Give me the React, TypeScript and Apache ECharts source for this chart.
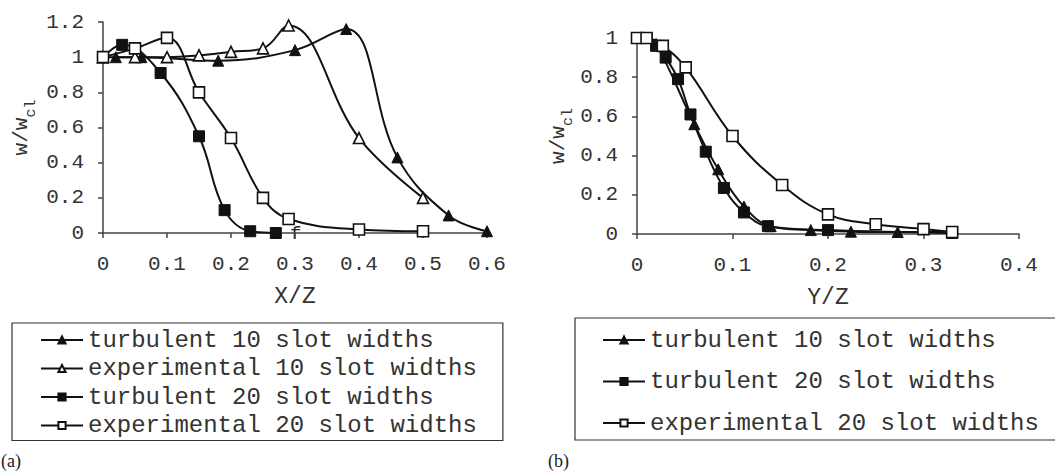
import React, { useEffect, useRef } from "react";
import * as echarts from "echarts";

// ---- data (a): w/wcl vs X/Z ----
const turb10A: number[][] = [[0.02, 1.0], [0.06, 1.0], [0.18, 0.98], [0.3, 1.04], [0.38, 1.16], [0.46, 0.43], [0.54, 0.1], [0.6, 0.01]];
const exp10A: number[][] = [[0, 1.0], [0.05, 1.0], [0.1, 1.0], [0.15, 1.01], [0.2, 1.03], [0.25, 1.05], [0.29, 1.18], [0.4, 0.54], [0.5, 0.2]];
const turb20A: number[][] = [[0, 1.0], [0.03, 1.07], [0.09, 0.91], [0.15, 0.55], [0.19, 0.13], [0.23, 0.01], [0.27, 0.0]];
const exp20A: number[][] = [[0, 1.0], [0.05, 1.05], [0.1, 1.11], [0.15, 0.8], [0.2, 0.54], [0.25, 0.2], [0.29, 0.08], [0.4, 0.02], [0.5, 0.01]];

// ---- data (b): w/wcl vs Y/Z ----
const turb10B: number[][] = [[0, 1.0], [0.01, 1.0], [0.02, 0.97], [0.06, 0.56], [0.085, 0.33], [0.112, 0.14], [0.14, 0.04], [0.182, 0.02], [0.224, 0.012], [0.273, 0.01], [0.33, 0.01]];
const turb20B: number[][] = [[0, 1.0], [0.01, 1.0], [0.02, 0.96], [0.03, 0.9], [0.043, 0.79], [0.056, 0.61], [0.072, 0.42], [0.091, 0.235], [0.112, 0.11], [0.137, 0.04], [0.2, 0.02], [0.33, 0.005]];
const exp20B: number[][] = [[0, 1.0], [0.01, 1.0], [0.027, 0.96], [0.051, 0.85], [0.1, 0.5], [0.152, 0.25], [0.2, 0.1], [0.25, 0.05], [0.3, 0.025], [0.33, 0.01]];

const nameT10 = "turbulent 10 slot widths";
const nameE10 = "experimental 10 slot widths";
const nameT20 = "turbulent 20 slot widths";
const nameE20 = "experimental 20 slot widths";

const MONO = "Liberation Mono";
const INK = "#111";
const AXIS = "#444";
const TXT = "#333";

function axisX(gridIndex: number, max: number, name: string) {
  return {
    type: "value",
    gridIndex,
    min: 0,
    max,
    interval: 0.1,
    name,
    nameLocation: "middle",
    nameGap: 52,
    nameTextStyle: { fontFamily: MONO, fontSize: 23, color: TXT },
    splitLine: { show: false },
    axisLine: { show: true, lineStyle: { color: AXIS, width: 1.5 } },
    axisTick: { show: true, length: 5, lineStyle: { color: AXIS, width: 1.5 } },
    axisLabel: { fontFamily: MONO, fontSize: 21, color: TXT, margin: 21 },
  };
}

function axisY(gridIndex: number, max: number, gap: number) {
  return {
    type: "value",
    gridIndex,
    min: 0,
    max,
    interval: 0.2,
    name: "{m|w/w}{s|cl}",
    nameLocation: "middle",
    nameGap: gap,
    nameTextStyle: {
      fontFamily: MONO,
      color: TXT,
      rich: {
        m: { fontFamily: MONO, fontSize: 21, color: TXT, verticalAlign: "top", lineHeight: 28 },
        s: { fontFamily: MONO, fontSize: 15, color: TXT, verticalAlign: "bottom", lineHeight: 28 },
      },
    },
    splitLine: { show: false },
    axisLine: { show: true, lineStyle: { color: AXIS, width: 1.5 } },
    axisTick: { show: true, length: 5, lineStyle: { color: AXIS, width: 1.5 } },
    axisLabel: { fontFamily: MONO, fontSize: 21, color: TXT, margin: 19 },
  };
}

function ser(name: string, data: number[][], idx: number, symbol: string, filled: boolean) {
  return {
    type: "line",
    name,
    xAxisIndex: idx,
    yAxisIndex: idx,
    data,
    smooth: 0.4,
    symbol,
    symbolSize: 11,
    showSymbol: true,
    lineStyle: { color: INK, width: 2 },
    itemStyle: filled
      ? { color: INK, borderColor: INK, borderWidth: 1 }
      : { color: "#fff", borderColor: INK, borderWidth: 1.6 },
    emphasis: { disabled: true },
  };
}

export default function App() {
  const ref = useRef<HTMLDivElement>(null);
  useEffect(() => {
    if (!ref.current) return;
    const chart = echarts.init(ref.current, undefined, { renderer: "svg" });
    const legendBase = {
      orient: "vertical",
      backgroundColor: "#fff",
      borderColor: "#333",
      borderWidth: 1.2,
      borderRadius: 0,
      itemWidth: 42,
      itemHeight: 9,
      selectedMode: false,
      textStyle: { fontFamily: MONO, fontSize: 24, color: TXT },
    };
    chart.setOption({
      animation: false,
      textStyle: { fontFamily: MONO },
      grid: [
        { left: 103, top: 22, width: 384, height: 211 },
        { left: 637, top: 38, width: 382, height: 196 },
      ],
      xAxis: [axisX(0, 0.6, "X/Z"), axisX(1, 0.4, "Y/Z")],
      yAxis: [axisY(0, 1.2, 64), axisY(1, 1, 34)],
      legend: [
        {
          ...legendBase,
          left: 12,
          top: 323,
          padding: [5, 26, 3, 28],
          itemGap: 4.5,
          data: [nameT10, nameE10, nameT20, nameE20],
        },
        {
          ...legendBase,
          left: 575,
          top: 318,
          padding: [10, 30, 5, 27],
          itemGap: 17.5,
          data: [nameT10, nameT20, nameE20],
        },
      ],
      series: [
        ser(nameT10, turb10A, 0, "triangle", true),
        ser(nameE10, exp10A, 0, "triangle", false),
        ser(nameT20, turb20A, 0, "rect", true),
        ser(nameE20, exp20A, 0, "rect", false),
        ser(nameT10, turb10B, 1, "triangle", true),
        ser(nameT20, turb20B, 1, "rect", true),
        ser(nameE20, exp20B, 1, "rect", false),
      ],
      graphic: [
        { type: "text", left: 1, top: 452, style: { text: "(a)", font: "18px 'Liberation Serif'", fill: "#222" } },
        { type: "text", left: 548, top: 452, style: { text: "(b)", font: "18px 'Liberation Serif'", fill: "#222" } },
        { type: "text", left: 290, top: 224, style: { text: "f", font: "19px 'Liberation Mono'", fill: "#222" } },
      ],
    });
    return () => chart.dispose();
  }, []);
  return (
    <div
      ref={ref}
      style={{ position: "absolute", left: 0, top: 0, width: 1055, height: 475, background: "#fff" }}
    />
  );
}
